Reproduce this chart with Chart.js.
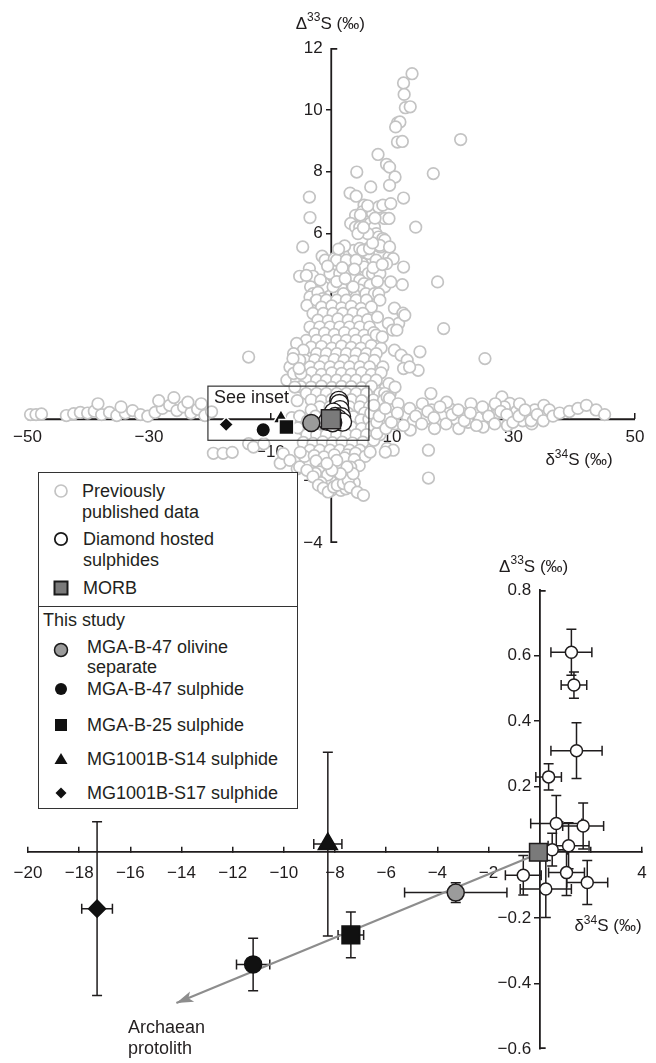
<!DOCTYPE html>
<html>
<head>
<meta charset="utf-8">
<title>Sulphur isotopes</title>
<script src="https://cdn.jsdelivr.net/npm/chart.js@4.4.1/dist/chart.umd.min.js"></script>
<style>
  body { margin: 0; background: #fff; }
  #wrap { position: relative; width: 656px; height: 1063px; overflow: hidden; font-family: "Liberation Sans", Arial, sans-serif; color: #231f20; }
  #wrap canvas { position: absolute; left: 0; top: 0; }
  #legend { position: absolute; left: 38px; top: 472px; width: 260px; height: 337px; box-sizing: border-box; border: 1px solid #333; background: #fff; font-size: 18px; }
  #legend .txt { position: absolute; line-height: 21px; white-space: nowrap; }
  #legend svg { position: absolute; left: 14px; width: 16px; height: 16px; }
  #legend .rule { position: absolute; left: 0; right: 0; border-top: 1px solid #333; }
  #protolith { position: absolute; left: 128px; top: 1017px; font-size: 18px; line-height: 21px; }
</style>
</head>
<body>
<div id="wrap">
  <canvas id="topChart" width="656" height="1063"></canvas>
  <canvas id="insetChart" width="656" height="1063"></canvas>
  <div id="legend">
    <svg style="top:10px" viewBox="0 0 16 16"><circle cx="8" cy="8" r="6" fill="none" stroke="#c3c3c3" stroke-width="1.7"/></svg>
    <div class="txt" style="left:43px;top:8px">Previously<br>published data</div>
    <svg style="top:58px" viewBox="0 0 16 16"><circle cx="8" cy="8" r="6.2" fill="#fff" stroke="#1a1a1a" stroke-width="1.8"/></svg>
    <div class="txt" style="left:44px;top:56px">Diamond hosted<br>sulphides</div>
    <svg style="top:107px" viewBox="0 0 16 16"><rect x="1.5" y="1.5" width="13" height="13" fill="#7a7a7a" stroke="#1a1a1a" stroke-width="2"/></svg>
    <div class="txt" style="left:44px;top:105px">MORB</div>
    <div class="rule" style="top:133px"></div>
    <div class="txt" style="left:4px;top:137px">This study</div>
    <svg style="top:169px" viewBox="0 0 16 16"><circle cx="8" cy="8" r="6.5" fill="#9b9b9b" stroke="#1a1a1a" stroke-width="1.5"/></svg>
    <div class="txt" style="left:48px;top:164px;line-height:20px">MGA-B-47 olivine<br>separate</div>
    <svg style="top:208px" viewBox="0 0 16 16"><circle cx="8" cy="8" r="6" fill="#111"/></svg>
    <div class="txt" style="left:48px;top:206px">MGA-B-47 sulphide</div>
    <svg style="top:244px" viewBox="0 0 16 16"><rect x="2" y="2" width="12" height="12" fill="#111"/></svg>
    <div class="txt" style="left:48px;top:242px">MGA-B-25 sulphide</div>
    <svg style="top:278px" viewBox="0 0 16 16"><polygon points="8,2 14.5,13 1.5,13" fill="#111"/></svg>
    <div class="txt" style="left:48px;top:276px">MG1001B-S14 sulphide</div>
    <svg style="top:312px" viewBox="0 0 16 16"><polygon points="8,2.5 13.5,8 8,13.5 2.5,8" fill="#111"/></svg>
    <div class="txt" style="left:48px;top:310px">MG1001B-S17 sulphide</div>
  </div>
  <div id="protolith">Archaean<br>protolith</div>
</div>
<script>
// ---- data (δ34S, Δ33S in ‰) ----

// previously published data
const prevPoints = [
  // long tail to high Δ33S
  [13.3, 11.17], [11.9, 10.87], [12.0, 10.5], [12.2, 10.07], [13.0, 10.1], [10.9, 9.58], [11.3, 9.61], [10.6, 9.45],
  [10.9, 8.96], [11.7, 8.98], [21.3, 9.04], [7.7, 8.56], [9.1, 8.24], [9.6, 8.15], [10.5, 7.83], [9.6, 7.56],
  [4.2, 7.99], [16.8, 7.94], [6.5, 7.51], [3.1, 7.31], [4.1, 7.21], [-3.6, 7.18], [11.9, 7.15], [-3.5, 6.52],
  [13.9, 6.21], [-4.7, 5.57], [-1.5, 5.27], [-1.0, 5.14], [0.5, 5.19], [0.4, 4.6], [11.9, 4.92], [9.5, 5.24],
  [10.2, 5.19], [9.1, 5.03], [17.5, 4.44], [11.7, 4.35], [8.8, 4.28], [-5.2, 4.62], [-3.6, 4.87], [-3.0, 4.62],
  [-3.4, 4.28], [-3.0, 4.06], [-4.1, 4.65], [-3.5, 3.95], [-2.6, 3.79], [-4.0, 3.68],
  // upper cluster
  [5.4, 6.92], [5.9, 6.81], [5.1, 6.7], [4.0, 6.59], [6.8, 6.65], [7.8, 6.86], [8.5, 6.92], [9.8, 6.97],
  [8.8, 6.49], [9.5, 6.49], [3.2, 6.33], [4.0, 6.21], [4.7, 6.21], [5.7, 6.38], [6.4, 6.33], [7.1, 6.21],
  [7.4, 6.0], [7.8, 5.89], [8.5, 5.84], [8.8, 5.79], [8.1, 5.57], [7.4, 5.63], [3.0, 5.41], [3.7, 5.46],
  [4.7, 5.52], [5.4, 5.41], [6.1, 5.36], [6.1, 5.52], [5.1, 5.03], [5.4, 4.92], [6.1, 4.71], [6.8, 4.71],
  [3.3, 4.71], [4.0, 4.6], [4.7, 4.49], [5.4, 4.38], [6.4, 4.33], [4.7, 4.17], [3.7, 4.06], [2.6, 4.17],
  [1.6, 4.28], [2.0, 4.06], [5.7, 4.06], [7.1, 4.06], [7.8, 4.06], [9.8, 4.44], [5.2, 5.46], [6.3, 5.52],
  [8.0, 5.62], [9.6, 5.57], [0.9, 5.14], [2.5, 5.14], [4.1, 5.14], [7.4, 5.14], [-0.2, 4.71], [1.4, 4.71],
  [8.0, 4.71], [-1.3, 4.28], [0.3, 4.28], [3.6, 4.28],
  [-1.8, 4.5], [0.9, 4.45], [2.3, 4.55], [-0.6, 4.95], [1.8, 4.9], [3.8, 4.85], [6.9, 4.9], [2.2, 5.6],
  [1.2, 5.5], [6.8, 5.7], [7.6, 4.45], [8.4, 5.0], [6.0, 6.0], [4.4, 6.0], [5.3, 6.2], [7.2, 6.5], [6.0, 6.9],
  [4.8, 6.6], [-2.2, 4.1], [-1.4, 3.9],
  // central column
  [-2.4, 3.85], [-0.8, 3.85], [0.9, 3.85], [2.5, 3.85], [4.1, 3.85], [5.8, 3.85], [8.0, 3.85],
  [-1.6, 3.62], [0.1, 3.66], [1.7, 3.6], [3.3, 3.65], [4.9, 3.58], [6.6, 3.63],
  [-3.0, 3.42], [-1.3, 3.42], [0.3, 3.42], [1.9, 3.42], [3.6, 3.42], [5.2, 3.42],
  [-2.2, 3.2], [-0.5, 3.18], [1.1, 3.24], [2.8, 3.2], [4.4, 3.17], [6.0, 3.22], [7.6, 3.3],
  [-3.5, 2.98], [-1.9, 2.98], [-0.2, 2.98], [1.4, 2.98], [3.0, 2.98], [4.7, 2.98], [6.3, 2.98],
  [-2.7, 2.76], [-1.1, 2.78], [0.5, 2.74], [2.2, 2.8], [3.8, 2.76], [5.4, 2.72], [7.0, 2.8],
  [-4.1, 2.55], [-2.4, 2.55], [-0.8, 2.55], [0.9, 2.55], [2.5, 2.55], [4.1, 2.55], [5.8, 2.55],
  [-3.3, 2.33], [-1.6, 2.35], [0.1, 2.3], [1.7, 2.36], [3.3, 2.32], [4.9, 2.3], [6.6, 2.38], [8.2, 2.3],
  [-5.7, 2.45], [-4.6, 2.23], [-6.2, 2.12], [-2.4, 2.12], [-0.8, 2.12], [0.9, 2.12], [2.5, 2.12], [4.1, 2.12],
  [5.8, 2.12], [7.4, 2.12],
  [-4.3, 1.9], [-2.7, 1.92], [-1.1, 1.88], [0.5, 1.93], [2.1, 1.9], [3.8, 1.88], [5.4, 1.95], [7.1, 1.9],
  [-6.8, 1.69], [-5.2, 1.91], [-3.5, 1.69], [-1.9, 1.69], [-0.2, 1.69], [1.4, 1.69],
  [3.0, 1.69], [4.7, 1.69], [6.3, 1.69], [8.5, 1.69],
  [-4.9, 1.47], [-3.2, 1.5], [-1.6, 1.45], [0.1, 1.5], [1.7, 1.48], [3.3, 1.46], [5.0, 1.5], [6.6, 1.45], [8.2, 1.5],
  [-7.3, 1.26], [-5.7, 1.26], [-4.1, 1.26], [-2.4, 1.26],
  [-0.8, 1.26], [0.9, 1.26], [2.5, 1.26], [4.1, 1.26], [5.8, 1.26], [7.4, 1.26],
  [-5.0, 1.05], [-3.3, 1.04], [-1.6, 1.07], [0.1, 1.03], [1.7, 1.06], [3.3, 1.05], [5.0, 1.02], [6.6, 1.06], [8.9, 1.0],
  [-4.1, 0.83], [-2.4, 0.83], [-0.8, 0.83], [0.9, 0.83], [2.5, 0.83], [4.1, 0.83], [5.8, 0.83], [8.0, 0.83], [9.7, 0.83],
  [-5.6, 0.6], [-3.3, 0.62], [-1.6, 0.6], [0.1, 0.64], [1.7, 0.6], [3.3, 0.63], [5.0, 0.6], [6.9, 0.62],
  [-1.9, 0.4], [-0.2, 0.4], [1.4, 0.4], [3.0, 0.4], [4.7, 0.4], [6.3, 0.4],
  [-6.2, 1.48], [-5.0, 1.48], [-6.0, 1.04], [-6.3, 1.96], [-5.3, 1.64], [-13.6, 2.01],
  [-4.8, -0.3], [-3.3, 0.3], [-1.8, -0.2], [-0.3, 0.15], [1.2, -0.25], [2.7, 0.2], [4.2, -0.2], [5.5, 0.2],
  [-6.5, 0.05], [-5.2, 0.1], [-3.9, -0.05], [-2.6, 0.1], [-1.0, 0.0], [0.6, 0.05], [2.0, -0.05], [3.6, 0.08],
  [4.9, -0.02], [6.2, 0.0],
  // below the δ34S axis
  [-5.5, -0.28], [-3.2, -0.26], [-0.9, -0.3], [0.5, -0.27], [2.0, -0.3], [3.3, -0.25], [5.0, -0.3], [6.6, -0.25],
  [-4.0, -0.5], [-2.4, -0.5], [-0.8, -0.5], [0.9, -0.5], [2.5, -0.5], [4.1, -0.5], [5.8, -0.5],
  [-4.6, -0.75], [-3.0, -0.78], [-1.4, -0.73], [0.2, -0.76], [1.8, -0.74], [3.5, -0.77], [5.2, -0.74],
  [-3.5, -1.0], [-1.9, -1.0], [-0.2, -1.0], [1.4, -1.0], [3.0, -1.0], [4.7, -1.0],
  [-4.4, -1.2], [-2.8, -1.18], [-1.2, -1.22], [2.6, -1.15], [4.0, -1.1], [5.6, -1.2],
  [-2.5, -1.35], [-1.4, -1.6], [0.5, -1.15], [2.2, -1.25], [3.8, -1.3], [4.6, -1.5], [-1.0, -1.95], [1.2, -1.9],
  [-0.1, -2.0], [-2.0, -1.7], [-2.6, -1.75], [-0.6, -1.8], [2.2, -1.7], [3.2, -1.55],
  [-1.7, -2.05], [0.0, -2.3], [1.6, -2.3], [2.4, -2.25], [3.8, -2.05],
  [-19.4, -1.1], [-17.8, -1.1], [-16.3, -1.07], [-13.6, -0.79], [-12.8, -0.9], [-11.1, -0.79],
  [-8.4, -1.42], [-7.9, -1.11], [-6.8, -1.33], [-5.6, -1.6], [-5.2, -1.54], [-5.1, -1.07], [-4.0, -1.65],
  [-3.0, -1.86], [-2.1, -2.13], [-1.3, -2.23], [-0.5, -2.35], [0.4, -2.19], [1.0, -2.13], [2.0, -2.08],
  [2.8, -1.97], [3.6, -1.76], [2.6, -1.54], [1.5, -1.76], [0.9, -1.33], [0.1, -1.65], [-0.7, -1.43],
  [3.1, -2.2], [4.3, -2.36], [5.3, -2.46], [16.0, -1.0], [16.0, -1.9], [9.2, -0.94], [10.2, -1.0],
  [8.0, -0.5], [6.4, -1.06], [7.0, -0.68], [7.5, -0.46], [8.9, -1.06],
  // scatter right of the column
  [10.4, 3.59], [11.8, 3.43], [11.1, 3.1], [9.4, 3.1], [10.1, 2.88], [10.4, 2.23], [11.5, 2.07], [12.5, 1.91],
  [14.6, 2.18], [14.3, 1.58], [11.9, 1.64], [7.4, 2.72], [8.4, 2.66], [9.5, 1.15], [8.8, 0.83], [16.4, 0.83],
  [28.1, 0.72], [30.9, 0.35], [25.3, 1.96], [18.5, 2.93], [10.8, 2.88], [12.1, 3.36], [12.9, 1.69], [10.5, 1.04],
  [8.6, 0.61], [9.2, 0.72], [29.4, 0.51], [9.6, 0.67],
  // band along the δ34S axis, negative side
  [-49.5, 0.15], [-48.6, 0.15], [-47.7, 0.17], [-43.6, 0.12], [-42.4, 0.18], [-41.3, 0.22], [-40.1, 0.2],
  [-39.0, 0.26], [-37.8, 0.15], [-36.5, 0.22], [-35.3, 0.12], [-33.9, 0.2], [-32.7, 0.28], [-31.4, 0.15],
  [-30.2, 0.1], [-29.0, 0.22], [-27.8, 0.35], [-26.6, 0.45], [-25.4, 0.28], [-24.3, 0.4], [-23.1, 0.2],
  [-22.0, 0.32], [-20.8, 0.12], [-19.7, 0.24], [-38.4, 0.5], [-34.6, 0.4], [-28.4, 0.6], [-25.9, 0.7],
  [-23.6, 0.55], [-21.4, 0.5],
  // band along the δ34S axis, positive side
  [6.5, 0.2], [7.5, -0.1], [8.5, 0.25], [9.5, 0.05], [10.5, -0.15], [11.5, 0.3], [12.5, 0.1], [13.5, -0.05],
  [14.5, 0.2], [15.5, 0.0], [16.5, 0.3], [17.5, -0.1], [18.5, 0.15], [19.5, 0.35], [20.5, 0.0], [21.5, 0.2],
  [22.5, -0.1], [23.5, 0.25], [24.5, 0.05], [25.5, 0.3], [26.5, -0.05], [27.5, 0.2], [28.5, 0.4], [29.5, 0.05],
  [30.5, 0.25], [31.5, -0.05], [32.5, 0.15], [33.5, 0.3], [34.5, 0.05], [35.5, 0.2],
  [7.0, 0.45], [9.0, -0.3], [11.0, 0.5], [13.0, -0.35], [15.0, 0.5], [17.0, -0.3], [19.0, 0.55], [21.0, -0.3],
  [23.0, 0.5], [25.0, -0.25], [27.0, 0.5], [29.0, -0.2], [31.0, 0.5], [33.0, -0.15], [35.0, 0.45],
  [7.9, 0.1], [8.9, 0.35], [9.9, -0.1], [10.9, 0.2], [11.9, -0.2], [12.9, 0.35], [13.9, 0.1], [14.9, -0.15],
  [15.9, 0.25], [16.9, 0.05], [17.9, 0.4], [18.9, -0.15], [19.9, 0.15], [20.9, 0.3], [21.9, -0.05], [22.9, 0.2],
  [23.9, -0.2], [24.9, 0.4], [25.9, 0.1], [26.9, -0.15], [27.9, 0.25], [28.9, 0.15], [29.9, -0.1], [30.9, 0.1],
  [31.9, 0.3], [32.9, -0.05], [33.9, 0.15], [34.9, -0.05], [35.9, 0.3], [36.5, 0.1],
  [37.6, 0.2], [39.2, 0.25], [40.6, 0.35], [42.0, 0.45], [43.6, 0.3], [45.0, 0.15]
];

// diamond hosted sulphides (values and error bars)
const diamondD34 = [1.24, 1.34, 1.44, 0.35, 0.65, 1.70, 1.13, 0.49, -0.64, 1.05, 1.86, 0.24];
const diamondD33 = [0.61, 0.51, 0.31, 0.23, 0.088, 0.08, 0.02, 0.008, -0.07, -0.062, -0.092, -0.112];
const diamondD34Err = [0.8, 0.5, 1.0, 0.5, 1.0, 0.8, 0.8, 0.6, 0.7, 0.7, 0.8, 1.0];
const diamondD33Err = [0.07, 0.04, 0.085, 0.04, 0.085, 0.07, 0.07, 0.05, 0.06, 0.07, 0.067, 0.087];

// MORB
const morbD34 = [-0.05];
const morbD33 = [0.0];

// this study
const studyNames = ['MGA-B-47 olivine separate', 'MGA-B-47 sulphide', 'MGA-B-25 sulphide', 'MG1001B-S14 sulphide', 'MG1001B-S17 sulphide'];
const studyD34 = [-3.28, -11.2, -7.38, -8.28, -17.3];
const studyD33 = [-0.123, -0.342, -0.252, 0.025, -0.172];
const studyD34Err = [2.0, 0.65, 0.5, 0.55, 0.6];
const studyD33Err = [0.03, 0.08, 0.07, 0.28, 0.265];

// mixing trend towards the Archaean protolith
const arrowD34 = [-0.3, -14.2];
const arrowD33 = [-0.012, -0.46];

// outline of the inset window on the main panel
const insetWindowD34 = [-20.3, 6.2];
const insetWindowD33 = [-0.68, 1.07];

// ticks
const topXTicks = [-50, -30, -10, 10, 30, 50];
const topXLabels = ['−50', '−30', ['', '−10'], '10', '30', '50'];
const topYTicks = [-4, -2, 0, 2, 4, 6, 8, 10, 12];
const topYLabels = ['−4', '−2', '', '2', '4', '6', '8', '10', '12'];
const insetXTicks = [-20, -18, -16, -14, -12, -10, -8, -6, -4, -2, 0, 2, 4];
const insetXLabels = ['−20', '−18', '−16', '−14', '−12', '−10', '−8', '−6', '−4', '−2', '', '', '4'];
const insetYTicks = [-0.6, -0.4, -0.2, 0, 0.2, 0.4, 0.6, 0.8];
const insetYLabels = ['−0.6', '−0.4', '−0.2', '', '0.2', '0.4', '0.6', '0.8'];

// ---- styles ----
const ink = '#1f1c1d';
const fontFam = "'Liberation Sans', Arial, sans-serif";
const studyStyle = [
  { shape: 'circle', fill: '#9b9b9b', edge: ink, topR: 8.5, insetR: 8.5 },
  { shape: 'circle', fill: '#111', edge: '#111', topR: 7.3, insetR: 8.5 },
  { shape: 'rect', fill: '#111', edge: '#111', topR: 10.5, insetR: 12.5 },
  { shape: 'triangle', fill: '#111', edge: '#111', topR: 9, insetR: 11 },
  { shape: 'rectRot', fill: '#111', edge: '#111', topR: 7.3, insetR: 8.5 }
];

const pts = (xs, ys) => xs.map((x, i) => ({ x: x, y: ys[i] }));

// ---- helpers / plugins ----
function drawSupText(ctx, cx, cy, parts) {
  let w = 0;
  parts.forEach((p) => {
    ctx.font = p[1] + 'px ' + fontFam;
    w += ctx.measureText(p[0]).width;
  });
  let x = cx - w / 2;
  ctx.save();
  ctx.fillStyle = ink;
  ctx.textBaseline = 'middle';
  ctx.textAlign = 'left';
  parts.forEach((p) => {
    ctx.font = p[1] + 'px ' + fontFam;
    ctx.fillText(p[0], x, cy - (p[2] || 0));
    x += ctx.measureText(p[0]).width;
  });
  ctx.restore();
}

// axis titles, placed from the axis crossing
const axisTitles = {
  id: 'axisTitles',
  afterDraw(chart, args, opts) {
    const { ctx, chartArea, scales } = chart;
    const x0 = scales.x.getPixelForValue(0);
    const y0 = scales.y.getPixelForValue(0);
    drawSupText(ctx, x0 + opts.yTitle[0], chartArea.top + opts.yTitle[1], [['Δ', 17], ['33', 12, 6], ['S (‰)', 17]]);
    drawSupText(ctx, chartArea.right + opts.xTitle[0], y0 + opts.xTitle[1], [['δ', 17], ['34', 12, 6], ['S (‰)', 17]]);
  }
};

// axis lines under the data (main panel) plus the end caps of the vertical axis
const axisLines = {
  id: 'axisLines',
  beforeDatasetsDraw(chart, args, opts) {
    const { ctx, chartArea, scales } = chart;
    const x0 = scales.x.getPixelForValue(0);
    const y0 = scales.y.getPixelForValue(0);
    ctx.save();
    ctx.strokeStyle = ink;
    ctx.lineWidth = 1.8;
    ctx.beginPath();
    if (opts.lines) {
      ctx.moveTo(chartArea.left, y0);
      ctx.lineTo(chartArea.right, y0);
      ctx.moveTo(x0, chartArea.top);
      ctx.lineTo(x0, chartArea.bottom);
    }
    ctx.moveTo(x0, chartArea.top + 0.8);
    ctx.lineTo(x0 + 6, chartArea.top + 0.8);
    ctx.moveTo(x0, chartArea.bottom - 0.8);
    ctx.lineTo(x0 + 6, chartArea.bottom - 0.8);
    ctx.stroke();
    ctx.restore();
  }
};

const insetWindow = {
  id: 'insetWindow',
  afterDatasetsDraw(chart) {
    const { ctx, scales } = chart;
    const l = scales.x.getPixelForValue(insetWindowD34[0]);
    const r = scales.x.getPixelForValue(insetWindowD34[1]);
    const t = scales.y.getPixelForValue(insetWindowD33[1]);
    const b = scales.y.getPixelForValue(insetWindowD33[0]);
    ctx.save();
    ctx.strokeStyle = '#333';
    ctx.lineWidth = 1.2;
    ctx.strokeRect(l, t, r - l, b - t);
    ctx.fillStyle = ink;
    ctx.font = '18px ' + fontFam;
    ctx.textBaseline = 'middle';
    ctx.fillText('See inset', l + 6, t + 12);
    ctx.restore();
  }
};

const errorBars = {
  id: 'errorBars',
  beforeDatasetsDraw(chart) {
    const { ctx, scales } = chart;
    const cap = 5;
    ctx.save();
    ctx.strokeStyle = ink;
    ctx.lineWidth = 1.5;
    chart.data.datasets.forEach((ds) => {
      if (!ds.errX) return;
      ds.data.forEach((p, i) => {
        const px = scales.x.getPixelForValue(p.x);
        const py = scales.y.getPixelForValue(p.y);
        const xl = scales.x.getPixelForValue(p.x - ds.errX[i]);
        const xr = scales.x.getPixelForValue(p.x + ds.errX[i]);
        const yt = scales.y.getPixelForValue(p.y + ds.errY[i]);
        const yb = scales.y.getPixelForValue(p.y - ds.errY[i]);
        ctx.beginPath();
        ctx.moveTo(xl, py); ctx.lineTo(xr, py);
        ctx.moveTo(xl, py - cap); ctx.lineTo(xl, py + cap);
        ctx.moveTo(xr, py - cap); ctx.lineTo(xr, py + cap);
        ctx.moveTo(px, yt); ctx.lineTo(px, yb);
        ctx.moveTo(px - cap, yt); ctx.lineTo(px + cap, yt);
        ctx.moveTo(px - cap, yb); ctx.lineTo(px + cap, yb);
        ctx.stroke();
      });
    });
    ctx.restore();
  }
};

const arrowHead = {
  id: 'arrowHead',
  afterDatasetsDraw(chart) {
    const idx = chart.data.datasets.findIndex((d) => d.isArrow);
    const meta = chart.getDatasetMeta(idx);
    const a = meta.data[0];
    const b = meta.data[1];
    const ang = Math.atan2(b.y - a.y, b.x - a.x);
    const len = 17;
    const half = 5.5;
    const ctx = chart.ctx;
    ctx.save();
    ctx.fillStyle = '#8d8d8d';
    ctx.translate(b.x, b.y);
    ctx.rotate(ang);
    ctx.beginPath();
    ctx.moveTo(0, 0);
    ctx.lineTo(-len, -half);
    ctx.lineTo(-len + 4, 0);
    ctx.lineTo(-len, half);
    ctx.closePath();
    ctx.fill();
    ctx.restore();
  }
};

// no tick mark at the axis ends or at the crossing
function tickInk(ticks) {
  return (c) => (c.index === 0 || c.index === ticks.length - 1 || ticks[c.index] === 0 ? 'rgba(0,0,0,0)' : ink);
}

// crossing axes take no room in the layout: the padding alone fixes the plot area
function crossScales(xMin, xMax, yMin, yMax, xTicks, xLabels, yTicks, yLabels, xPad, onTop) {
  return {
    x: {
      type: 'linear', min: xMin, max: xMax,
      position: { y: 0 },
      z: onTop ? 1 : 0,
      afterFit: (s) => { s.height = 0; s.paddingLeft = 0; s.paddingRight = 0; },
      afterBuildTicks: (s) => { s.ticks = xTicks.map((v) => ({ value: v })); },
      ticks: {
        autoSkip: false, maxRotation: 0, padding: xPad, color: ink,
        font: { family: fontFam, size: 17, lineHeight: 0.9 },
        callback: (v, i) => xLabels[i]
      },
      grid: { display: true, drawOnChartArea: false, tickLength: -6, color: ink, lineWidth: 1.5 },
      border: { display: !onTop, color: ink, width: 1.8 }
    },
    y: {
      type: 'linear', min: yMin, max: yMax,
      position: { x: 0 },
      z: onTop ? 1 : 0,
      afterFit: (s) => { s.width = 0; s.paddingTop = 0; s.paddingBottom = 0; },
      afterBuildTicks: (s) => { s.ticks = yTicks.map((v) => ({ value: v })); },
      ticks: {
        autoSkip: false, color: ink,
        font: { family: fontFam, size: 17 },
        callback: (v, i) => (yLabels[i] ? yLabels[i] + '\u2002' : '')
      },
      grid: { display: true, drawOnChartArea: false, tickLength: 5, color: ink, tickColor: tickInk(yTicks), lineWidth: 1.5 },
      border: { display: !onTop, color: ink, width: 1.8 }
    }
  };
}

function studySets(sizeKey, withBars, haloColor) {
  return studyNames.map((name, i) => ({
    label: name,
    data: [{ x: studyD34[i], y: studyD33[i] }],
    pointStyle: studyStyle[i].shape,
    pointRadius: studyStyle[i][sizeKey],
    backgroundColor: studyStyle[i].fill,
    borderColor: haloColor && i > 0 ? haloColor : studyStyle[i].edge,
    pointBorderWidth: 1.5,
    errX: withBars ? [studyD34Err[i]] : null,
    errY: withBars ? [studyD33Err[i]] : null,
    clip: false,
    order: 1
  }));
}

// ---- main panel ----
const topConfig = {
  type: 'scatter',
  data: {
    datasets: [
      {
        label: 'Previously published data',
        data: prevPoints.map((p) => ({ x: p[0], y: p[1] })),
        pointRadius: 5.8,
        backgroundColor: '#fff',
        borderColor: '#c3c3c3',
        pointBorderWidth: 1.7,
        clip: false,
        order: 9
      },
      {
        label: 'Diamond hosted sulphides',
        data: pts(diamondD34, diamondD33),
        pointRadius: 9,
        backgroundColor: '#fff',
        borderColor: ink,
        pointBorderWidth: 1.4,
        order: 2
      },
      {
        label: 'MORB',
        data: pts(morbD34, morbD33),
        pointStyle: 'rect',
        pointRadius: 13.5,
        backgroundColor: '#7a7a7a',
        borderColor: ink,
        pointBorderWidth: 1.5,
        order: 1
      }
    ].concat(studySets('topR', false, '#fff'))
  },
  options: {
    responsive: false,
    animation: false,
    devicePixelRatio: 1,
    layout: { padding: { left: 27.5, right: 21, top: 48, bottom: 520 } },
    plugins: {
      legend: { display: false },
      tooltip: { enabled: false },
      axisLines: { lines: true },
      axisTitles: { yTitle: [-1, -24], xTitle: [-56, 41] }
    },
    scales: crossScales(-50, 50, -4, 12, topXTicks, topXLabels, topYTicks, topYLabels, 16.5, true)
  },
  plugins: [axisLines, insetWindow, axisTitles]
};
new Chart(document.getElementById('topChart'), topConfig);

// ---- inset ----
const insetConfig = {
  type: 'scatter',
  data: {
    datasets: [
      {
        label: 'Archaean protolith trend',
        isArrow: true,
        data: pts(arrowD34, arrowD33),
        showLine: true,
        borderColor: '#8d8d8d',
        borderWidth: 2.2,
        pointRadius: 0,
        clip: false,
        order: 9
      },
      {
        label: 'Diamond hosted sulphides',
        data: pts(diamondD34, diamondD33),
        pointRadius: 6,
        backgroundColor: '#fff',
        borderColor: ink,
        pointBorderWidth: 1.5,
        errX: diamondD34Err,
        errY: diamondD33Err,
        clip: false,
        order: 2
      },
      {
        label: 'MORB',
        data: pts(morbD34, morbD33),
        pointStyle: 'rect',
        pointRadius: 12.5,
        backgroundColor: '#7a7a7a',
        borderColor: ink,
        pointBorderWidth: 1.5,
        clip: false,
        order: 1
      }
    ].concat(studySets('insetR', true, null))
  },
  options: {
    responsive: false,
    animation: false,
    devicePixelRatio: 1,
    layout: { padding: { left: 28, right: 6, top: 590, bottom: 7 } },
    plugins: {
      legend: { display: false },
      tooltip: { enabled: false },
      axisLines: { lines: false },
      axisTitles: { yTitle: [-6, -23], xTitle: [-34, 74] }
    },
    scales: crossScales(-20, 4, -0.6, 0.8, insetXTicks, insetXLabels, insetYTicks, insetYLabels, 19, false)
  },
  plugins: [axisLines, errorBars, arrowHead, axisTitles]
};
new Chart(document.getElementById('insetChart'), insetConfig);
</script>
</body>
</html>
